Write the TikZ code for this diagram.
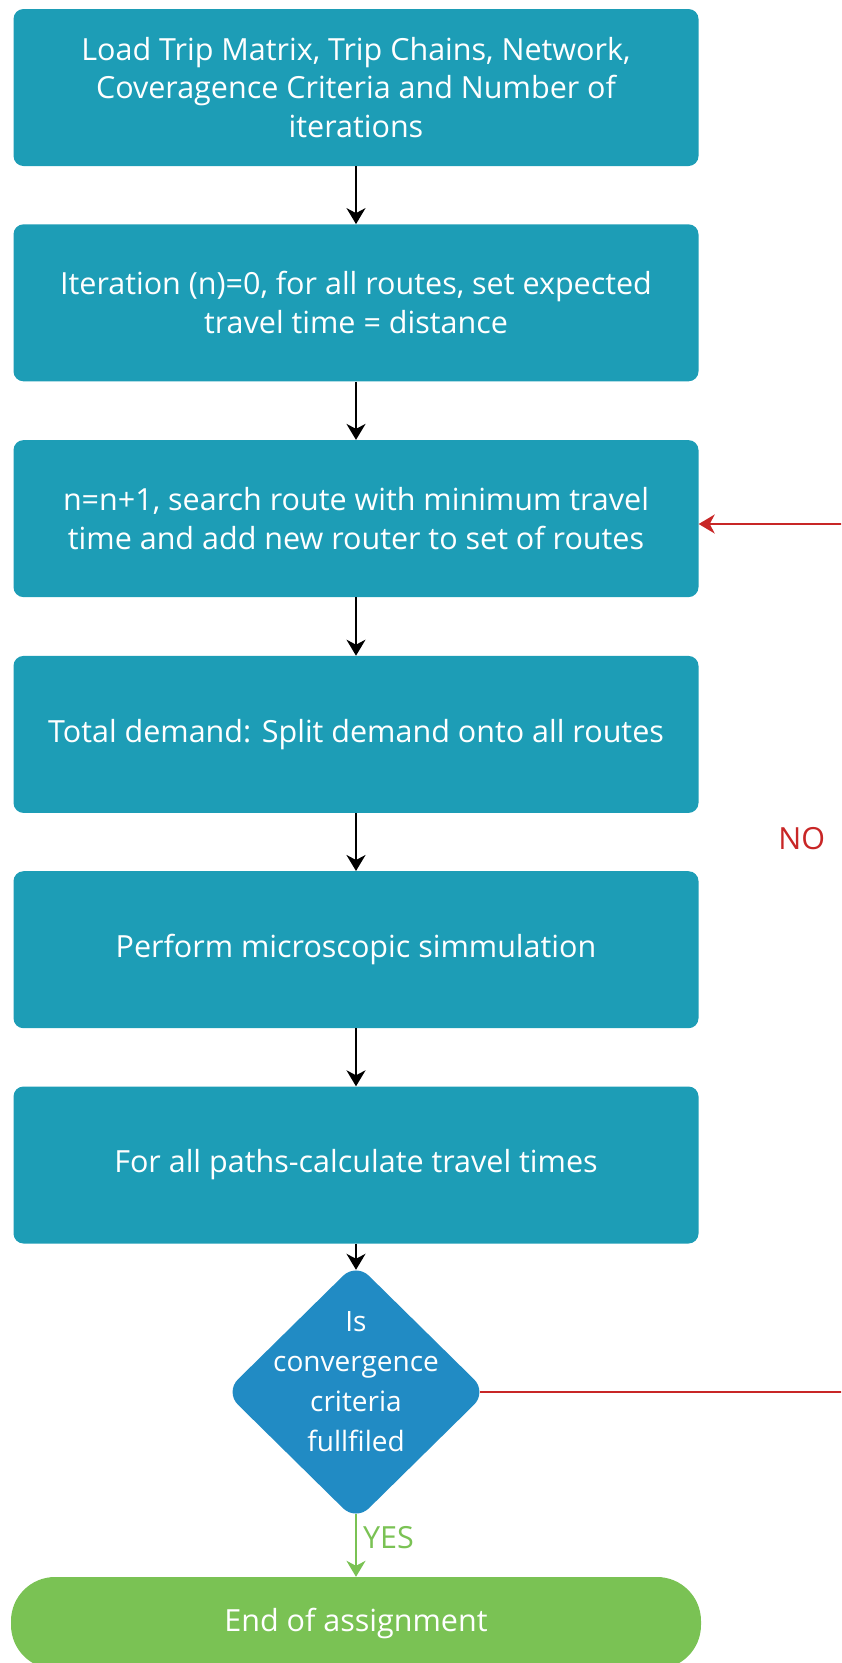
\documentclass[tikz,border=0pt]{standalone}
\usepackage{fontspec}
\setmainfont{Open Sans}
\usetikzlibrary{shapes.geometric, arrows.meta, positioning}
\definecolor{stepteal}{RGB}{29,157,182}
\definecolor{condblue}{RGB}{33,139,196}
\definecolor{endgreen}{RGB}{122,194,84}
\definecolor{loopred}{RGB}{200,38,38}

\begin{document}
\begin{tikzpicture}[x=1pt, y=-1pt,
    every node/.style={font=\fontsize{30.5}{38.7}\selectfont, text=white},
    flowstep/.style={rectangle, fill=stepteal, rounded corners=10pt, minimum width=685pt, minimum height=157pt, align=center},
    decision/.style={diamond, fill=condblue, rounded corners=18pt, aspect=1, inner sep=-25pt, minimum width=262pt, minimum height=258pt, align=center, font=\fontsize{28}{40}\selectfont, text depth=22pt},
    terminal/.style={rectangle, fill=endgreen, rounded corners=44pt, minimum width=690pt, minimum height=92pt, align=center},
    arrow/.style={line width=2pt, -{Stealth[length=16pt, width=19pt, inset=5pt]}},
    yesarrow/.style={arrow, draw=endgreen},
    noarrow/.style={arrow, draw=loopred},
    answer/.style={inner sep=2pt}
]
    \useasboundingbox (0,0) rectangle (841,1663);
    \clip (0,0) rectangle (841,1663);

    \node[flowstep] (load) at (356,87.5) {Load Trip Matrix, Trip Chains, Network,\\Coveragence Criteria and Number of\\iterations};
    \node[flowstep] (init) at (356,302.8) {Iteration (n)=0, for all routes, set expected\\travel time = distance};
    \node[flowstep] (search) at (356,518.6) {n=n+1, search route with minimum travel\\time and add new router to set of routes};
    \node[flowstep] (split) at (356,734.4) {Total demand: Split demand onto all routes};
    \node[flowstep] (sim) at (356,949.7) {Perform microscopic simmulation};
    \node[flowstep] (times) at (356,1165) {For all paths-calculate travel times};
    \node[decision] (conv) at (356,1392) {Is\\convergence\\criteria\\fullfiled};
    \node[terminal] (finish) at (356,1623) {End of assignment};

    \coordinate (loopbot) at (860,1392);
    \coordinate (looptop) at (860,524);

    \draw[arrow] (load) -- (init);
    \draw[arrow] (init) -- (search);
    \draw[arrow] (search) -- (split);
    \draw[arrow] (split) -- (sim);
    \draw[arrow] (sim) -- (times);
    \draw[arrow, shorten >=-7pt] (times) -- (conv);
    \draw[yesarrow, shorten <=-7pt] (conv) -- (finish)
        node[answer, midway, right, text=endgreen, xshift=4pt, yshift=11pt] {YES};
    \draw[noarrow, shorten <=-7pt] (conv.east) -- (loopbot) -- (looptop)
        node[answer, pos=0.638, left, text=loopred, xshift=-32pt] {NO}
        -- (search.east |- looptop);
\end{tikzpicture}
\end{document}
